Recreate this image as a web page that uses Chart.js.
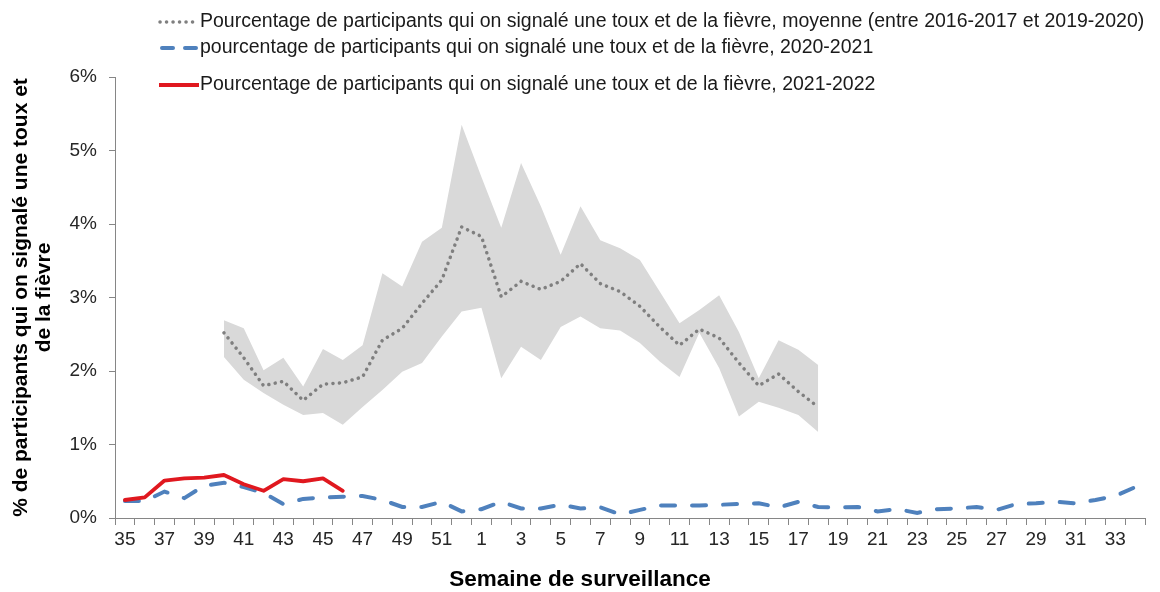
<!DOCTYPE html>
<html>
<head>
<meta charset="utf-8">
<script src="https://cdn.jsdelivr.net/npm/chart.js@4.4.1/dist/chart.umd.min.js"></script>
<style>
html,body{margin:0;padding:0;background:#ffffff;}
#wrap{width:1160px;height:592px;position:relative;}
</style>
</head>
<body>
<div id="wrap"><canvas id="c" width="1160" height="592"></canvas></div>
<script>
// ---- Data ----
const weeks = [35,36,37,38,39,40,41,42,43,44,45,46,47,48,49,50,51,52,
               1,2,3,4,5,6,7,8,9,10,11,12,13,14,15,16,17,18,19,20,21,22,23,24,25,26,27,28,29,30,31,32,33,34];

const seriesNames = [
  'Pourcentage de participants qui on signalé une toux et de la fièvre, moyenne (entre 2016-2017 et 2019-2020)',
  'pourcentage de participants qui on signalé une toux et de la fièvre, 2020-2021',
  'Pourcentage de participants qui on signalé une toux et de la fièvre, 2021-2022'
];

const avgPrevSeasons = [null,null,null,null,null,
  2.52,2.18,1.80,1.86,1.60,1.82,1.84,1.92,2.42,2.58,2.92,3.24,3.96,
  3.83,3.01,3.22,3.11,3.22,3.46,3.19,3.08,2.88,2.60,2.35,2.57,2.45,2.11,1.80,1.96,1.72,1.51,
  null,null,null,null,null,null,null,null,null,null,null,null,null,null,null,null];

const rangeHigh = [null,null,null,null,null,
  2.69,2.58,2.01,2.18,1.79,2.30,2.15,2.35,3.33,3.15,3.76,3.95,5.35,
  4.64,3.95,4.83,4.24,3.58,4.24,3.78,3.67,3.51,3.08,2.65,2.83,3.03,2.53,1.90,2.42,2.29,2.08,
  null,null,null,null,null,null,null,null,null,null,null,null,null,null,null,null];

const rangeLow = [null,null,null,null,null,
  2.19,1.88,1.70,1.54,1.40,1.43,1.27,1.51,1.74,1.99,2.11,2.47,2.81,
  2.86,1.90,2.33,2.15,2.60,2.74,2.58,2.55,2.38,2.13,1.92,2.52,2.04,1.38,1.58,1.50,1.40,1.17,
  null,null,null,null,null,null,null,null,null,null,null,null,null,null,null,null];

const season2020 = [0.23,0.23,0.36,0.27,0.44,0.48,0.42,0.34,0.19,0.26,0.28,0.29,0.30,0.245,0.15,0.15,0.22,0.09,
  0.12,0.22,0.13,0.13,0.18,0.13,0.145,0.05,0.11,0.17,0.17,0.17,0.18,0.19,0.20,0.145,0.22,0.15,0.145,0.15,
  0.09,0.12,0.07,0.12,0.13,0.15,0.11,0.19,0.20,0.22,0.20,0.245,0.30,0.42];

const season2021 = [0.245,0.28,0.51,0.54,0.55,0.585,0.46,0.37,0.53,0.50,0.54,0.37];

const yTicks = [0,1,2,3,4,5,6];
const yTitle = ['% de participants qui on signalé une toux et', 'de la fièvre'];
const xTitle = 'Semaine de surveillance';

// ---- Styles ----
const FAMILY = "'Liberation Sans', Arial, sans-serif";
const AXIS_COLOR = '#868686';
const TEXT_COLOR = '#262626';
const GREY_DOT = '#7f7f7f';
const BLUE = '#4f81bd';
const RED = '#e0181f';
const BAND = '#d9d9d9';

const legendLayout = [
  {y: 22, x0: 160, x1: 196, color: GREY_DOT, width: 3.5, dash: [0.1, 6.4], cap: 'round'},
  {y: 48, x0: 162, x1: 196, color: BLUE, width: 4, dash: [11, 12], cap: 'round'},
  {y: 85, x0: 159, x1: 199, color: RED, width: 4, dash: [], cap: 'butt'}
];

const legendPlugin = {
  id: 'legendLines',
  afterDraw(chart) {
    const ctx = chart.ctx;
    ctx.save();
    legendLayout.forEach((it, i) => {
      ctx.beginPath();
      ctx.setLineDash(it.dash);
      ctx.lineCap = it.cap;
      ctx.lineWidth = it.width;
      ctx.strokeStyle = it.color;
      ctx.moveTo(it.x0, it.y);
      ctx.lineTo(it.x1, it.y);
      ctx.stroke();
      ctx.setLineDash([]);
      ctx.font = '19.5px ' + FAMILY;
      ctx.fillStyle = '#1a1a1a';
      ctx.textBaseline = 'middle';
      ctx.textAlign = 'left';
      ctx.fillText(seriesNames[i], 200, it.y);
    });
    // x-axis title, centred on the page as in the reference
    ctx.font = 'bold 22.5px ' + FAMILY;
    ctx.fillStyle = '#000';
    ctx.textAlign = 'center';
    ctx.textBaseline = 'middle';
    ctx.fillText(xTitle, 580, 580);
    ctx.restore();
  }
};

const ctx = document.getElementById('c').getContext('2d');
new Chart(ctx, {
  type: 'line',
  data: {
    labels: weeks,
    datasets: [
      {label: seriesNames[2], data: season2021, borderColor: RED, borderWidth: 3.8,
       pointRadius: 0, fill: false, tension: 0, borderCapStyle: 'round', borderJoinStyle: 'round'},
      {label: seriesNames[1], data: season2020, borderColor: BLUE, borderWidth: 4,
       borderDash: [14, 17], borderCapStyle: 'round', pointRadius: 0, fill: false, tension: 0},
      {label: seriesNames[0], data: avgPrevSeasons, borderColor: GREY_DOT, borderWidth: 3.5,
       borderDash: [0.1, 6.4], borderCapStyle: 'round', pointRadius: 0, fill: false, tension: 0},
      {label: 'max', data: rangeHigh, borderWidth: 0, borderColor: 'rgba(0,0,0,0)', backgroundColor: BAND,
       pointRadius: 0, fill: '+1', tension: 0},
      {label: 'min', data: rangeLow, borderWidth: 0, borderColor: 'rgba(0,0,0,0)', backgroundColor: BAND,
       pointRadius: 0, fill: false, tension: 0}
    ]
  },
  options: {
    responsive: false,
    animation: false,
    devicePixelRatio: 1,
    layout: {padding: {left: 0, right: 15, top: 77, bottom: 0}},
    plugins: {legend: {display: false}, tooltip: {enabled: false}},
    scales: {
      x: {
        type: 'category',
        offset: true,
        grid: {offset: true, drawOnChartArea: false, drawTicks: true, tickLength: 7, color: AXIS_COLOR},
        border: {display: true, color: AXIS_COLOR, width: 1},
        ticks: {autoSkip: false, maxRotation: 0, minRotation: 0, padding: 3, color: TEXT_COLOR,
          font: {family: FAMILY, size: 19},
          callback: function(v, i) { return i % 2 === 0 ? String(weeks[i]) : ''; }},
        title: {display: false},
        afterFit(scale) { scale.height = 74; }
      },
      y: {
        min: 0, max: 6,
        afterBuildTicks(scale) { scale.ticks = yTicks.map(v => ({value: v})); },
        grid: {drawOnChartArea: false, drawTicks: true, tickLength: 6, color: AXIS_COLOR},
        border: {display: true, color: AXIS_COLOR, width: 1},
        ticks: {padding: 12, color: TEXT_COLOR, font: {family: FAMILY, size: 19},
          callback: v => v + '%'},
        title: {display: true, text: yTitle, color: '#000', font: {family: FAMILY, size: 21, weight: 'bold', lineHeight: 1.1},
          padding: {top: 10, bottom: 0}},
        afterFit(scale) { scale.width = 115; }
      }
    }
  },
  plugins: [legendPlugin]
});
</script>
</body>
</html>
